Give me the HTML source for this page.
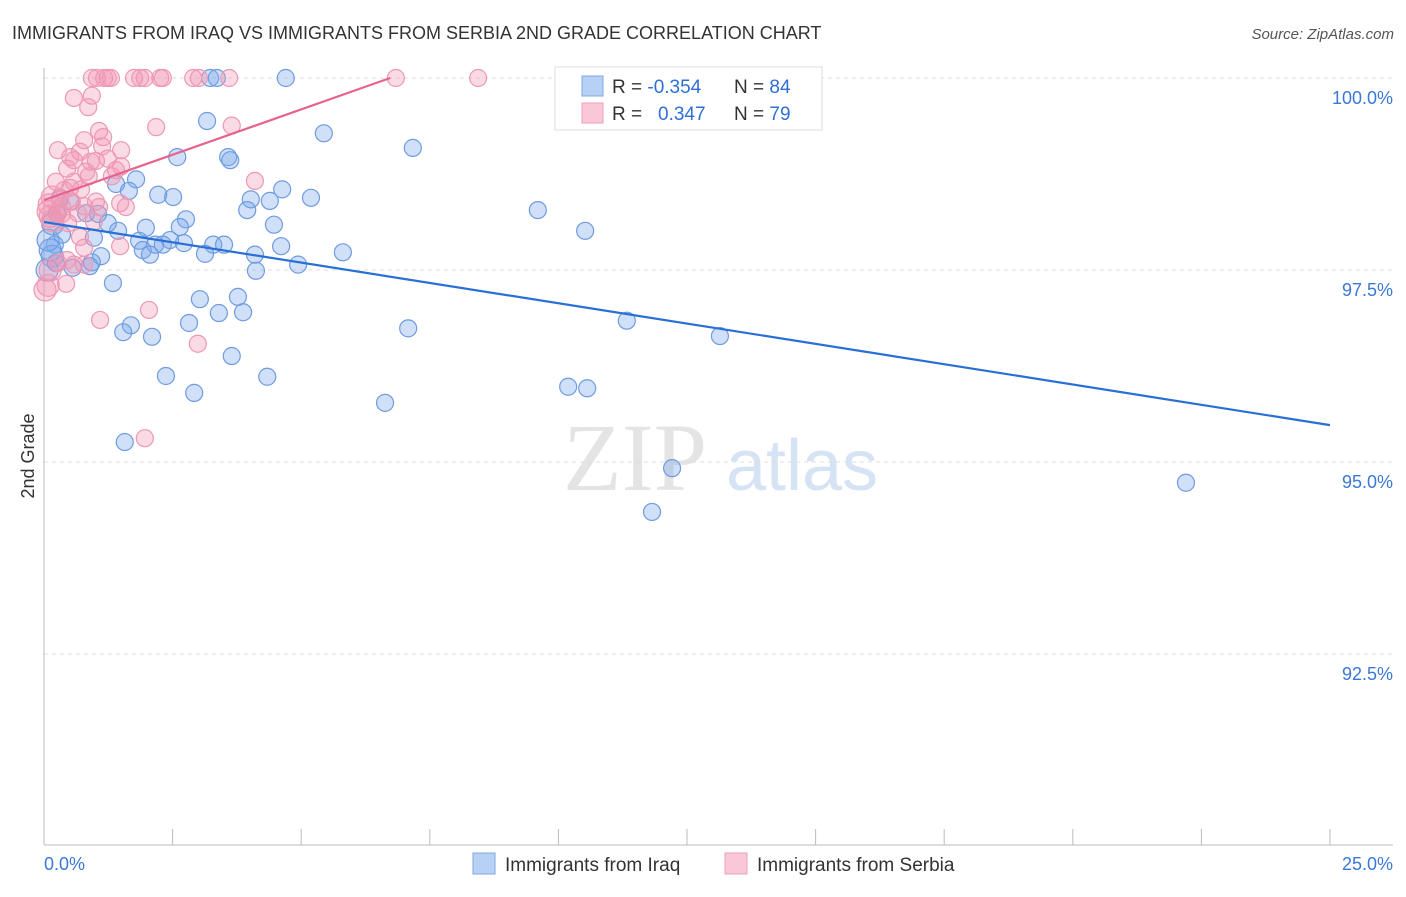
<!DOCTYPE html>
<html><head><meta charset="utf-8"><style>
body{margin:0;background:#fff;font-family:"Liberation Sans",sans-serif;}
</style></head><body>
<svg id="chart" width="1406" height="892" xmlns="http://www.w3.org/2000/svg" font-family="Liberation Sans, sans-serif">
<text x="12" y="39" font-size="18" fill="#333">IMMIGRANTS FROM IRAQ VS IMMIGRANTS FROM SERBIA 2ND GRADE CORRELATION CHART</text>
<text x="1394" y="39" font-size="15" fill="#555" font-style="italic" text-anchor="end">Source: ZipAtlas.com</text>
<text x="34" y="456" font-size="18" fill="#333" text-anchor="middle" transform="rotate(-90 34 456)">2nd Grade</text>
<g>
<text x="635" y="490" font-size="96" font-family="Liberation Serif, serif" fill="#e4e4e4" text-anchor="middle">ZIP</text>
<text x="802" y="490" font-size="72" fill="#d6e3f5" text-anchor="middle">atlas</text>
</g>
<g id="grid"></g><g id="axes"></g><g id="pts"></g><g id="trends"></g>
<g>
<rect x="555" y="67" width="267" height="63" fill="#fff" stroke="#ddd"/>
<rect x="582" y="76" width="21" height="20" fill="#b7d1f5" stroke="#7fa6e3"/>
<rect x="582" y="103" width="21" height="20" fill="#f9c8d6" stroke="#f0a0b8"/>
<text x="612" y="93" font-size="19" fill="#333">R = <tspan fill="#2e6fd8">-0.354</tspan><tspan x="734">N = </tspan><tspan fill="#2e6fd8">84</tspan></text>
<text x="612" y="120" font-size="19" fill="#333">R = <tspan x="658" fill="#2e6fd8">0.347</tspan><tspan x="734">N = </tspan><tspan fill="#2e6fd8">79</tspan></text>
</g>
<g>
<rect x="473" y="853" width="22" height="21" fill="#b7d1f5" stroke="#7fa6e3"/>
<text x="505" y="871" font-size="19" fill="#333">Immigrants from Iraq</text>
<rect x="725" y="853" width="22" height="21" fill="#f9c8d6" stroke="#f0a0b8"/>
<text x="757" y="871" font-size="19" fill="#333">Immigrants from Serbia</text>
</g>
</svg>
<script>
const xTicks=[0,2.5,5,7.5,10,12.5,15,17.5,20,22.5,25];
const yTicks=[100,97.5,95,92.5];
const yTickLabels=["100.0%","97.5%","95.0%","92.5%"];
const xEndLabels=["0.0%","25.0%"];
const iraqX=[4.70,3.23,3.36,14.07,3.17,5.44,7.17,2.59,3.58,3.62,1.79,1.40,1.65,2.22,2.51,4.63,4.02,4.39,5.19,3.95,9.60,2.76,4.47,1.98,2.64,1.44,10.52,1.24,1.05,0.51,0.31,0.25,0.17,0.82,1.85,2.16,2.31,2.45,2.72,3.29,3.50,3.13,1.92,2.06,4.10,4.61,5.81,4.94,4.12,1.11,0.89,0.93,0.56,0.21,0.16,0.23,0.97,1.34,3.03,3.77,3.40,3.87,2.82,1.69,1.54,2.10,7.08,11.33,13.14,3.65,2.37,4.34,2.92,6.63,10.19,10.56,1.57,12.21,11.82,22.20,0.12,0.08,0.35,0.06];
const iraqY=[100,100,100,100,99.44,99.28,99.09,98.97,98.97,98.93,98.68,98.62,98.53,98.48,98.45,98.55,98.42,98.40,98.44,98.28,98.28,98.16,98.09,98.05,98.06,98.01,98.01,98.11,98.23,98.39,98.44,98.24,98.10,98.24,97.88,97.83,97.83,97.89,97.85,97.83,97.83,97.71,97.76,97.70,97.70,97.81,97.73,97.57,97.49,97.68,97.55,97.60,97.53,97.83,97.68,97.59,97.92,97.33,97.12,97.15,96.94,96.95,96.81,96.78,96.69,96.63,96.74,96.84,96.64,96.38,96.12,96.11,95.90,95.77,95.98,95.96,95.26,94.92,94.35,94.73,97.76,97.89,97.96,97.50];
const serbiaX=[0.93,1.03,1.17,1.24,1.30,1.75,1.87,1.96,2.26,2.31,2.90,3.01,3.60,6.84,8.44,0.58,0.93,0.86,2.18,3.65,1.07,1.15,0.78,0.27,0.51,0.70,0.58,0.91,1.01,1.50,1.13,1.50,1.40,0.45,0.82,4.10,1.32,0.23,0.58,0.39,0.72,0.31,0.16,0.10,0.35,0.54,0.66,1.01,1.59,0.78,0.35,0.12,0.17,0.08,0.47,0.97,0.70,1.48,0.78,0.45,0.58,0.27,0.12,0.08,0.43,1.09,2.04,2.99,1.96,1.07,0.27,1.48,0.78,0.51,1.24,0.87,0.02];
const serbiaY=[100,100,100,100,100,100,100,100,100,100,100,100,100,100,100,99.74,99.77,99.62,99.36,99.38,99.31,99.23,99.19,99.06,98.97,99.04,98.93,98.91,98.92,99.06,99.11,98.85,98.80,98.82,98.78,98.66,98.72,98.65,98.65,98.54,98.55,98.42,98.45,98.35,98.33,98.39,98.24,98.39,98.32,98.33,98.23,98.20,98.14,98.26,98.11,98.13,97.93,97.81,97.79,97.63,97.57,97.59,97.50,97.30,97.32,96.85,96.98,96.54,95.31,98.32,98.24,98.37,97.57,98.57,98.95,98.72,97.24];
const iraqTrendX=[0,25], iraqTrendY=[98.125,95.48];
const serbiaTrendX=[0,6.73], serbiaTrendY=[98.41,100];

const X=v=>44+v*51.44, Y=v=>78+(100-v)*76.8;
const NS="http://www.w3.org/2000/svg";
function mk(tag,attrs,parent){const e=document.createElementNS(NS,tag);for(const k in attrs)e.setAttribute(k,attrs[k]);parent.appendChild(e);return e;}
const grid=document.getElementById('grid'),axes=document.getElementById('axes'),pts=document.getElementById('pts'),tr=document.getElementById('trends');
yTicks.forEach((t,i)=>{
  const l=mk('line',{x1:44,x2:1393,y1:Y(t),y2:Y(t),stroke:'#ddd','stroke-dasharray':'4,4'},grid);
  
  
  const tx=mk('text',{x:1393,y:Y(t)+26,'font-size':18,fill:'#3a78d8','text-anchor':'end'},axes);
  tx.textContent=yTickLabels[i];
  
  
});
const ya=mk('line',{x1:44,x2:44,y1:68,y2:845,stroke:'#bbb'},axes);


const xa=mk('line',{x1:44,x2:1393,y1:845,y2:845,stroke:'#bbb'},axes);


xTicks.forEach(t=>{
  const l=mk('line',{x1:X(t),x2:X(t),y1:829,y2:845,stroke:'#bbb'},axes);
  
  
});
const xl0=mk('text',{x:44,y:870,'font-size':18,fill:'#3a78d8'},axes);xl0.textContent=xEndLabels[0];


const xl1=mk('text',{x:1393,y:870,'font-size':18,fill:'#3a78d8','text-anchor':'end'},axes);xl1.textContent=xEndLabels[1];


function drawPts(xs,ys,fill,stroke,name){
  xs.forEach((v,i)=>{
    const c=mk('circle',{cx:X(v),cy:Y(ys[i]),r:v<0.2?11:8.5,fill:fill,stroke:stroke,'stroke-width':1.2},pts);
    
    
  });
}
drawPts(iraqX,iraqY,'rgba(120,165,235,0.35)','#6f9be0','iraq-point');
drawPts(serbiaX,serbiaY,'rgba(242,150,180,0.35)','#ee98b3','serbia-point');
const t1=mk('line',{x1:X(iraqTrendX[0]),y1:Y(iraqTrendY[0]),x2:X(iraqTrendX[1]),y2:Y(iraqTrendY[1]),stroke:'#2a6fd6','stroke-width':2.2},tr);


const t2=mk('line',{x1:X(serbiaTrendX[0]),y1:Y(serbiaTrendY[0]),x2:X(serbiaTrendX[1]),y2:Y(serbiaTrendY[1]),stroke:'#e8628f','stroke-width':2.2},tr);


</script>
</body></html>
